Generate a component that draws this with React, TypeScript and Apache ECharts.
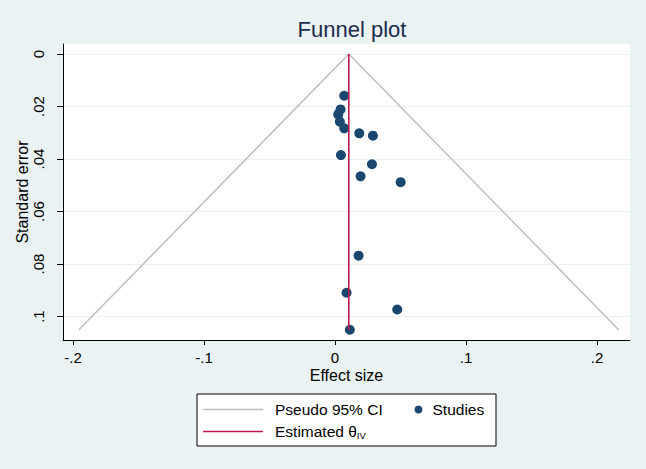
import React, { useEffect, useRef } from 'react';
import * as echarts from 'echarts';

// Study estimates (effect size) and their standard errors
const studyEffect = [0.0070, 0.0042, 0.0024, 0.0037, 0.0070, 0.0185, 0.0289, 0.0045, 0.0282, 0.0195, 0.0501, 0.0180, 0.0088, 0.0475, 0.0113];
const studySE = [0.0159, 0.0211, 0.0230, 0.0258, 0.0283, 0.0302, 0.0311, 0.0385, 0.0420, 0.0466, 0.0488, 0.0768, 0.0909, 0.0973, 0.1050];

// Estimated theta (IV) and pseudo 95% CI funnel end points
const thetaIV = 0.0105;
const seMax = 0.1050;
const ciLowerAtMax = -0.1955;
const ciUpperAtMax = 0.2165;

// Tick values
const xTicks = [-0.2, -0.1, 0, 0.1, 0.2];
const yTicks = [0, 0.02, 0.04, 0.06, 0.08, 0.1];

const BG = '#EAF2F3';
const NAVY = '#1A476F';
const RED = '#C0184A';
const GRAY = '#BEBEBE';
const FONT = '"Liberation Sans", Arial, Helvetica, sans-serif';

const fmt = (v: number) => {
  if (Math.abs(v) < 1e-12) return '0';
  const s = String(Math.round(v * 1000) / 1000);
  return s.replace('0.', '.');
};

export default function App() {
  const ref = useRef<HTMLDivElement>(null);
  useEffect(() => {
    if (!ref.current) return;
    const chart = echarts.init(ref.current, null, { renderer: 'svg' });
    const studies = studyEffect.map((x, i) => [x, studySE[i]]);
    const ciLeft = [[thetaIV, 0], [ciLowerAtMax, seMax]];
    const ciRight = [[thetaIV, 0], [ciUpperAtMax, seMax]];
    const thetaLine = [[thetaIV, 0], [thetaIV, seMax]];

    chart.setOption({
      animation: false,
      backgroundColor: BG,
      textStyle: { fontFamily: FONT },
      title: {
        text: 'Funnel plot',
        left: 347,
        top: 13,
        textAlign: 'center',
        textStyle: { fontFamily: FONT, fontSize: 22, fontWeight: 'normal', color: '#1C2B4F' },
      },
      grid: {
        left: 63, right: 16, top: 44, bottom: 129,
        show: true, backgroundColor: '#FFFFFF', borderWidth: 0,
      },
      xAxis: {
        type: 'value',
        min: -0.2077,
        max: 0.2252,
        name: 'Effect size',
        nameLocation: 'middle',
        nameGap: 27,
        nameMoveOverlap: false,
        nameTextStyle: { fontFamily: FONT, fontSize: 16, color: '#000' },
        axisLine: { show: true, onZero: false, lineStyle: { color: '#000', width: 1 } },
        axisTick: { show: true, inside: false, length: 5, customValues: xTicks, lineStyle: { color: '#000' } },
        axisLabel: { customValues: xTicks, formatter: fmt, fontSize: 15, color: '#000', margin: 10, fontFamily: FONT },
        splitLine: { show: false },
      },
      yAxis: {
        type: 'value',
        inverse: true,
        min: -0.0038,
        max: 0.1089,
        name: 'Standard error',
        nameLocation: 'middle',
        nameGap: 33,
        nameRotate: 90,
        nameMoveOverlap: false,
        nameTextStyle: { fontFamily: FONT, fontSize: 16, color: '#000' },
        axisLine: { show: true, onZero: false, lineStyle: { color: '#000', width: 1 } },
        axisTick: { show: true, inside: false, length: 6, customValues: yTicks, lineStyle: { color: '#000' } },
        axisLabel: { customValues: yTicks, formatter: fmt, rotate: 90, fontSize: 15, color: '#000', margin: 17, fontFamily: FONT },
        splitLine: { show: true, lineStyle: { color: BG, width: 1 } },
      },
      series: [
        {
          type: 'line', name: 'Pseudo 95% CI', data: ciLeft, symbol: 'none',
          lineStyle: { color: GRAY, width: 1.5 }, z: 2, silent: true,
        },
        {
          type: 'line', name: 'Pseudo 95% CI R', data: ciRight, symbol: 'none',
          lineStyle: { color: GRAY, width: 1.5 }, z: 2, silent: true,
        },
        {
          type: 'scatter', name: 'Studies', data: studies, symbol: 'circle', symbolSize: 10,
          itemStyle: { color: NAVY, opacity: 1 }, z: 3,
        },
        {
          type: 'line', name: 'Estimated θIV', data: thetaLine, symbol: 'none',
          lineStyle: { color: RED, width: 1.6 }, z: 4, silent: true,
        },
      ],
      graphic: [
        {
          type: 'rect', shape: { x: 197, y: 394, width: 299, height: 52 },
          style: { fill: '#FFFFFF', stroke: '#000', lineWidth: 1 }, z: 10,
        },
        {
          type: 'line', shape: { x1: 203, y1: 409.5, x2: 263, y2: 409.5 },
          style: { stroke: GRAY, lineWidth: 1.5 }, z: 11,
        },
        {
          type: 'text', x: 275, y: 409.5, z: 11,
          style: { text: 'Pseudo 95% CI', fontSize: 15.5, fontFamily: FONT, fill: '#000', verticalAlign: 'middle', align: 'left' },
        },
        {
          type: 'circle', shape: { cx: 418.5, cy: 409.5, r: 4 },
          style: { fill: NAVY }, z: 11,
        },
        {
          type: 'text', x: 432.5, y: 409.5, z: 11,
          style: { text: 'Studies', fontSize: 15.5, fontFamily: FONT, fill: '#000', verticalAlign: 'middle', align: 'left' },
        },
        {
          type: 'line', shape: { x1: 203, y1: 431.5, x2: 263, y2: 431.5 },
          style: { stroke: RED, lineWidth: 1.6 }, z: 11,
        },
        {
          type: 'text', x: 275, y: 431.5, z: 11,
          style: {
            text: '{a|Estimated θ}{b|IV}',
            fontFamily: FONT,
            fill: '#000',
            verticalAlign: 'middle',
            align: 'left',
            rich: {
              a: { fontSize: 15.5, fontFamily: FONT, fill: '#000', lineHeight: 18, verticalAlign: 'middle' },
              b: { fontSize: 9.5, fontFamily: FONT, fill: '#000', lineHeight: 18, verticalAlign: 'bottom', padding: [8, 0, 0, 0] },
            },
          },
        },
      ],
    });
    return () => chart.dispose();
  }, []);
  return (
    <div
      ref={ref}
      style={{ position: 'fixed', left: 0, top: 0, width: 646, height: 469 }}
    />
  );
}
